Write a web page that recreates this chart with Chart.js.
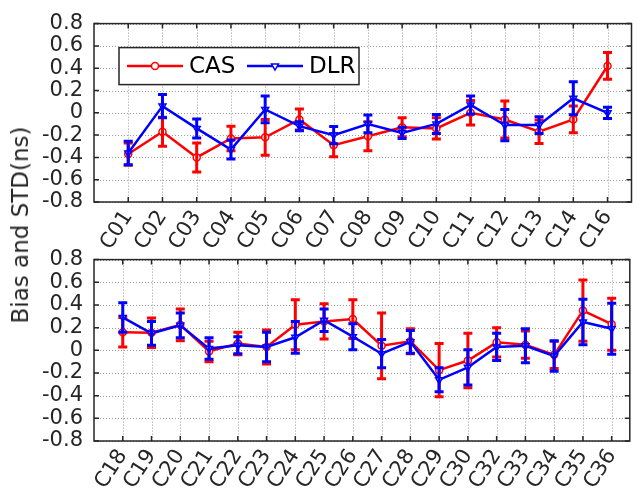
<!DOCTYPE html>
<html>
<head>
<meta charset="utf-8">
<script src="https://cdn.jsdelivr.net/npm/chart.js"></script>
<style>
  body { margin: 0; background: #fff; }
  #wrap { position: relative; width: 637px; height: 490px; overflow: hidden; }
  canvas { position: absolute; left: 0; }
  #topChart { top: 0; }
  #botChart { top: 236px; }
  #ylabel {
    position: absolute; left: 20px; top: 225px;
    transform: translate(-50%, -50%) rotate(-90deg);
    font: 23px "DejaVu Sans", sans-serif; color: #262626; white-space: nowrap;
  }
</style>
</head>
<body>
<div id="wrap">
  <canvas id="topChart" width="637" height="252"></canvas>
  <canvas id="botChart" width="637" height="254"></canvas>
  <div id="ylabel">Bias and STD(ns)</div>
</div>
<script>
// --- data ---
const topCats = ['C01', 'C02', 'C03', 'C04', 'C05', 'C06', 'C07', 'C08', 'C09', 'C10', 'C11', 'C12', 'C13', 'C14', 'C16'];
const casTop = [-0.37, -0.17, -0.40, -0.23, -0.22, -0.06, -0.29, -0.21, -0.13, -0.14, 0.00, -0.06, -0.17, -0.06, 0.42];
const casTopErr = [0.10, 0.13, 0.13, 0.11, 0.16, 0.095, 0.105, 0.13, 0.085, 0.095, 0.11, 0.165, 0.105, 0.12, 0.12];
const dlrTop = [-0.36, 0.06, -0.14, -0.33, 0.03, -0.12, -0.20, -0.10, -0.18, -0.10, 0.07, -0.11, -0.11, 0.13, 0.00];
const dlrTopErr = [0.105, 0.105, 0.085, 0.085, 0.12, 0.04, 0.077, 0.08, 0.05, 0.085, 0.08, 0.14, 0.075, 0.148, 0.05];

const botCats = ['C18', 'C19', 'C20', 'C21', 'C22', 'C23', 'C24', 'C25', 'C26', 'C27', 'C28', 'C29', 'C30', 'C32', 'C33', 'C34', 'C35', 'C36'];
const casBot = [0.16, 0.155, 0.225, -0.01, 0.06, 0.03, 0.225, 0.255, 0.275, 0.04, 0.08, -0.175, -0.09, 0.07, 0.05, -0.04, 0.35, 0.23];
const casBotErr = [0.13, 0.13, 0.14, 0.09, 0.10, 0.15, 0.22, 0.155, 0.17, 0.29, 0.11, 0.235, 0.24, 0.13, 0.12, 0.12, 0.27, 0.23];
const dlrBot = [0.29, 0.15, 0.22, 0.015, 0.045, 0.03, 0.115, 0.265, 0.12, -0.03, 0.075, -0.26, -0.15, 0.03, 0.04, -0.05, 0.25, 0.19];
const dlrBotErr = [0.13, 0.105, 0.11, 0.095, 0.075, 0.13, 0.14, 0.10, 0.115, 0.125, 0.10, 0.105, 0.155, 0.12, 0.15, 0.135, 0.20, 0.225];

const yTicks = [-0.8, -0.6, -0.4, -0.2, 0, 0.2, 0.4, 0.6, 0.8];
const seriesNames = ['CAS', 'DLR'];

const RED = '#ff0000';
const BLUE = '#0000ff';
const INK = '#262626';

Chart.defaults.font.family = '"DejaVu Sans", sans-serif';
Chart.defaults.font.size = 21;
Chart.defaults.color = INK;

// dotted grid under the data, frame + inward ticks on top
const frameGrid = {
    id: 'frameGrid',
    beforeDatasetsDraw(chart) {
        const { ctx, chartArea: a, scales } = chart;
        ctx.save();
        ctx.strokeStyle = '#9a9a9a';
        ctx.lineWidth = 1;
        ctx.setLineDash([1, 2]);
        scales.x.ticks.forEach(t => {
            const x = Math.round(scales.x.getPixelForValue(t.value)) + 0.5;
            ctx.beginPath(); ctx.moveTo(x, a.top); ctx.lineTo(x, a.bottom); ctx.stroke();
        });
        scales.y.ticks.forEach(t => {
            const y = Math.round(scales.y.getPixelForValue(t.value)) + 0.5;
            ctx.beginPath(); ctx.moveTo(a.left, y); ctx.lineTo(a.right, y); ctx.stroke();
        });
        ctx.restore();
    },
    afterDatasetsDraw(chart) {
        const { ctx, chartArea: a, scales } = chart;
        ctx.save();
        ctx.strokeStyle = INK;
        ctx.lineWidth = 1.5;
        ctx.beginPath();
        scales.x.ticks.forEach(t => {
            const x = scales.x.getPixelForValue(t.value);
            ctx.moveTo(x, a.bottom); ctx.lineTo(x, a.bottom - 5);
            ctx.moveTo(x, a.top); ctx.lineTo(x, a.top + 5);
        });
        scales.y.ticks.forEach(t => {
            const y = scales.y.getPixelForValue(t.value);
            ctx.moveTo(a.left, y); ctx.lineTo(a.left + 5, y);
            ctx.moveTo(a.right, y); ctx.lineTo(a.right - 5, y);
        });
        ctx.stroke();
        ctx.strokeRect(a.left, a.top, a.right - a.left, a.bottom - a.top);
        ctx.restore();
    }
};

// vertical error bars with caps, drawn right after each series
const errorBars = {
    id: 'errorBars',
    afterDatasetDraw(chart, args) {
        const ds = chart.data.datasets[args.index];
        if (!ds.errors) return;
        const { ctx } = chart;
        const ys = chart.scales.y;
        ctx.save();
        ctx.strokeStyle = ds.borderColor;
        ctx.lineWidth = 3;
        ctx.beginPath();
        args.meta.data.forEach((pt, i) => {
            const v = ds.data[i].y, e = ds.errors[i];
            const y1 = ys.getPixelForValue(v + e), y2 = ys.getPixelForValue(v - e);
            ctx.moveTo(pt.x, y1); ctx.lineTo(pt.x, y2);
            ctx.moveTo(pt.x - 4.5, y1); ctx.lineTo(pt.x + 4.5, y1);
            ctx.moveTo(pt.x - 4.5, y2); ctx.lineTo(pt.x + 4.5, y2);
        });
        ctx.stroke();
        ctx.restore();
    }
};

// boxed legend in the upper left of the top panel
const boxLegend = {
    id: 'boxLegend',
    afterDraw(chart) {
        const { ctx, chartArea: a } = chart;
        const ds = chart.data.datasets;
        const bx = a.left + 25, by = a.top + 24, bw = 240, bh = 37;
        const cy = by + bh / 2;
        ctx.save();
        ctx.fillStyle = '#fff';
        ctx.fillRect(bx, by, bw, bh);
        ctx.strokeStyle = INK;
        ctx.lineWidth = 1.5;
        ctx.strokeRect(bx, by, bw, bh);
        ctx.font = '23px "DejaVu Sans", sans-serif';
        ctx.textBaseline = 'middle';
        const slots = [bx + 8, bx + 128];
        [0, 1].forEach(k => {
            const d = ds.find(s => s.label === seriesNames[k]);
            const x0 = slots[k];
            ctx.strokeStyle = d.borderColor;
            ctx.lineWidth = 2.5;
            ctx.beginPath(); ctx.moveTo(x0, cy); ctx.lineTo(x0 + 56, cy); ctx.stroke();
            ctx.fillStyle = '#fff';
            ctx.strokeStyle = d.borderColor;
            ctx.lineWidth = 1.5;
            Chart.helpers.drawPoint(ctx, {
                pointStyle: d.pointStyle, rotation: d.pointRotation || 0,
                radius: d.pointRadius, borderWidth: 1.5
            }, x0 + 28, cy);
            ctx.fillStyle = '#000';
            ctx.fillText(d.label, x0 + 62, cy + 1);
        });
        ctx.restore();
    }
};

function makeSeries(vals) {
    return vals.map((v, i) => ({ x: i + 1, y: v }));
}

function makeChart(id, cats, cas, casErr, dlr, dlrErr, xmax, pad, xHeight, legend) {
    const plugins = [frameGrid, errorBars];
    if (legend) plugins.push(boxLegend);
    return new Chart(document.getElementById(id), {
        type: 'line',
        data: {
            datasets: [
                {
                    label: seriesNames[0], data: makeSeries(cas), errors: casErr,
                    borderColor: RED, backgroundColor: '#fff', borderWidth: 2.5,
                    pointStyle: 'circle', pointRadius: 3.5, pointBorderWidth: 1.5,
                    order: 2
                },
                {
                    label: seriesNames[1], data: makeSeries(dlr), errors: dlrErr,
                    borderColor: BLUE, backgroundColor: '#fff', borderWidth: 2.5,
                    pointStyle: 'triangle', pointRotation: 180, pointRadius: 4, pointBorderWidth: 1.5,
                    order: 1
                }
            ]
        },
        options: {
            responsive: false,
            animation: false,
            layout: { padding: { top: pad, right: 1, left: 0, bottom: 0 } },
            plugins: { legend: { display: false }, tooltip: { enabled: false } },
            scales: {
                x: {
                    type: 'linear', min: 0, max: xmax,
                    grid: { display: false, drawTicks: false },
                    border: { display: false },
                    afterBuildTicks: s => { s.ticks = cats.map((c, i) => ({ value: i + 1 })); },
                    afterFit: s => { s.height = xHeight; },
                    ticks: {
                        autoSkip: false, minRotation: 57, maxRotation: 57, padding: 4,
                        callback: v => cats[v - 1]
                    }
                },
                y: {
                    min: -0.8, max: 0.8,
                    grid: { display: false, drawTicks: false },
                    border: { display: false },
                    afterBuildTicks: s => { s.ticks = yTicks.map(v => ({ value: v })); },
                    afterFit: s => { s.width = 94; },
                    ticks: {
                        autoSkip: false, padding: 11,
                        callback: v => String(Math.round(v * 10) / 10)
                    }
                }
            }
        },
        plugins: plugins
    });
}

makeChart('topChart', topCats, casTop, casTopErr, dlrTop, dlrTopErr, 15.7, 19, 50, true);
makeChart('botChart', botCats, casBot, casBotErr, dlrBot, dlrBotErr, 18.63, 21, 49, false);
</script>
</body>
</html>
